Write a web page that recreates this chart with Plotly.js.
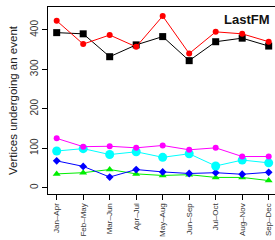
<!DOCTYPE html>
<html><head><meta charset="utf-8">
<script src="https://cdn.plot.ly/plotly-3.0.1.min.js"></script>
<style>html,body{margin:0;padding:0;background:#fff}#c{width:275px;height:240px}</style>
</head><body><div id="c"></div>
<script>
const periods = ["Jan–Apr","Feb–May","Mar–Jun","Apr–Jul","May–Aug","Jun–Sep","Jul–Oct","Aug–Nov","Sep–Dec"];
const redSeries = [423,364,387,357,435,340,395,390,370];
const blackSeries = [393,390,332,362,383,322,370,379,359];
const magentaSeries = [125,104,105,101,107,96,101,79,79];
const cyanSeries = [93,99,84,91,77,86,55,70,63];
const blueSeries = [68,54,27,46,40,36,38,34,39];
const greenSeries = [35,38,46,35,31,33,26,26,18];
const yTicks = [0,100,200,300,400];

function tr(y, color, symbol, size){
  return {x: periods, y: y, type:'scatter', mode:'lines+markers',
    line:{color:color, width:1}, marker:{color:color, symbol:symbol, size:size}, hoverinfo:'none'};
}
const data = [
  tr(greenSeries,'#00ee00','triangle-up',7),
  tr(blueSeries,'#0000ff','diamond',6),
  tr(cyanSeries,'#00ffff','circle',9),
  tr(magentaSeries,'#ff00ff','circle',6),
  tr(blackSeries,'#000000','square',7),
  tr(redSeries,'#ff0000','circle',6)
];
const layout = {
  width:275, height:240, showlegend:false,
  margin:{l:48, r:0, t:7, b:46},
  paper_bgcolor:'#fff', plot_bgcolor:'#fff',
  font:{family:'Liberation Sans, Arial, sans-serif', color:'#000'},
  xaxis:{type:'category', range:[-0.328, 8.238], showgrid:false, zeroline:false,
    showline:true, mirror:true, linecolor:'#000', linewidth:1,
    ticks:'outside', ticklen:5, tickcolor:'#000', tickangle:-90,
    tickfont:{size:8, color:'#333'}},
  yaxis:{range:[-16,458], showgrid:false, zeroline:false,
    showline:true, linecolor:'#000', linewidth:1,
    tickvals:yTicks, ticks:'outside', ticklen:5, tickcolor:'#000', tickangle:-90,
    tickfont:{size:10, color:'#333'},
    title:{text:'Vertices undergoing an event', font:{size:11.5, color:'#222'}, standoff:8}},
  annotations:[{text:'<b>LastFM</b>', xref:'paper', yref:'paper', x:0.986, y:0.985,
    xanchor:'right', yanchor:'top', showarrow:false, font:{size:13, color:'#111'}}]
};
Plotly.newPlot('c', data, layout, {displayModeBar:false, staticPlot:true});
</script></body></html>
